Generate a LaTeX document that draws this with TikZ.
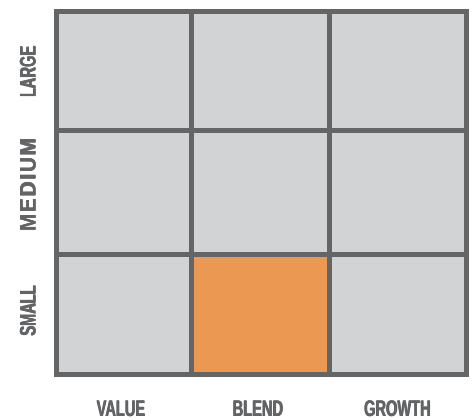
\documentclass[tikz,border=0pt]{standalone}
\usepackage{fontspec}
\newfontfamily\condfont{Liberation Sans Bold}[FakeStretch=0.65]
\newfontfamily\widefont{Liberation Sans Bold}[FakeStretch=0.92,LetterSpace=8]
\newcommand{\thicktext}[1]{\makebox[0pt][l]{#1}\hspace{0.4pt}\makebox[0pt][l]{#1}\hspace{0.4pt}#1}
\definecolor{gridline}{HTML}{646567}
\definecolor{cellfill}{HTML}{D1D3D4}
\definecolor{hilite}{HTML}{EA9852}
\definecolor{labelgray}{HTML}{636466}
\tikzset{
  cellbox/.style={fill=cellfill, draw=none},
  hotbox/.style={fill=hilite, draw=none},
  gridstroke/.style={draw=gridline, line width=5.5pt},
  axislabel/.style={text=labelgray, font=\condfont\fontsize{22.5}{24}\selectfont, inner sep=0pt},
  sidelabel/.style={axislabel, rotate=90},
  midlabel/.style={text=labelgray, font=\widefont\fontsize{22.5}{24}\selectfont, inner sep=0pt, rotate=90}
}
\begin{document}
\begin{tikzpicture}[x=1pt,y=-1pt]
\useasboundingbox (0,0) rectangle (474,420);
\fill[white] (0,0) rectangle (474,420);
% cells
\fill[cellbox] (56.5,11.5) rectangle (466.5,374.5);
\fill[hotbox] (191.5,254.5) rectangle (329.5,374.5);
% grid
\draw[gridstroke] (56.5,11.5) rectangle (466.5,374.5);
\draw[gridstroke] (191.5,11.5) -- (191.5,374.5);
\draw[gridstroke] (329.5,11.5) -- (329.5,374.5);
\draw[gridstroke] (56.5,130.5) -- (466.5,130.5);
\draw[gridstroke] (56.5,254.5) -- (466.5,254.5);
\fill[gridline] (53.75,374) rectangle (158,376.7);
% labels
\node[sidelabel] (large) at (28,72) {\thicktext{LARGE}};
\node[midlabel] (medium) at (28,185) {\thicktext{MEDIUM}};
\node[sidelabel] (small) at (28,311) {\thicktext{SMALL}};
\node[axislabel] (value) at (121,409) {\thicktext{VALUE}};
\node[axislabel] (blend) at (258,409) {\thicktext{BLEND}};
\node[axislabel] (growth) at (397.5,409) {\thicktext{GROWTH}};
\end{tikzpicture}
\end{document}
